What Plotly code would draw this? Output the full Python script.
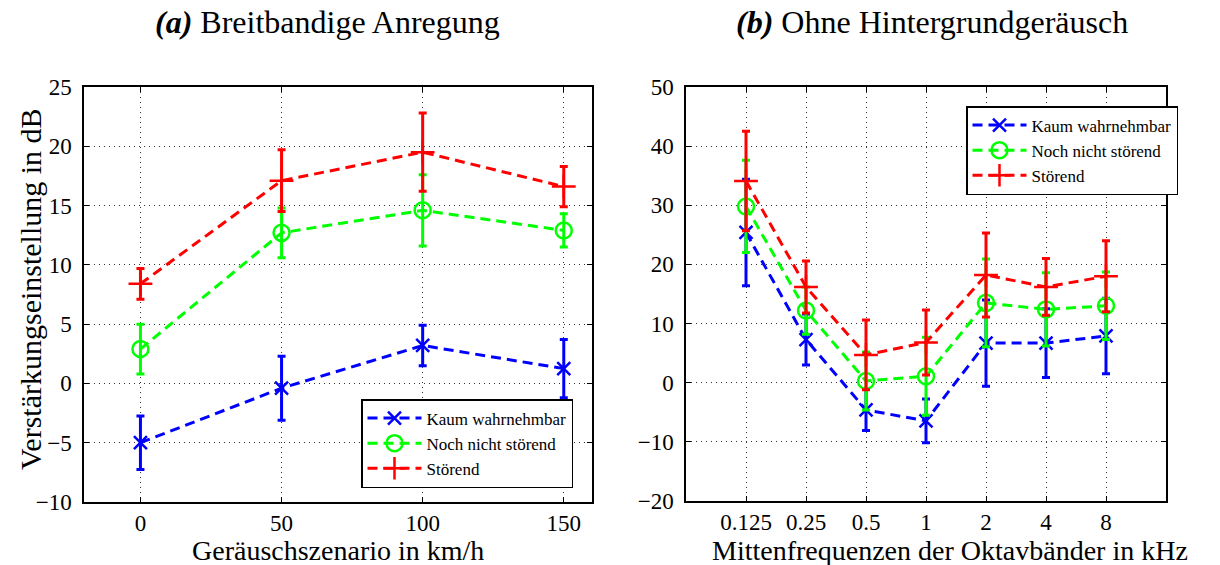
import plotly.graph_objects as go

# ---------- data ----------
series_names = ["Kaum wahrnehmbar", "Noch nicht störend", "Störend"]

# (a) Breitbandige Anregung
speed_kmh = [0, 50, 100, 150]
a_kaum = [-5.0, -0.4, 3.2, 1.25]
a_kaum_err = [2.25, 2.7, 1.7, 2.45]
a_noch = [2.9, 12.7, 14.6, 12.9]
a_noch_err = [2.1, 2.1, 3.0, 1.4]
a_stoer = [8.4, 17.1, 19.5, 16.6]
a_stoer_err = [1.3, 2.6, 3.3, 1.7]

# (b) Ohne Hintergrundgeräusch
freq_labels = ["0.125", "0.25", "0.5", "1", "2", "4", "8"]
b_kaum = [25.4, 7.3, -4.6, -6.45, 6.7, 6.7, 7.9]
b_kaum_err = [9.0, 4.3, 3.5, 3.7, 7.3, 5.8, 6.4]
b_noch = [29.8, 12.2, 0.3, 1.1, 13.5, 12.4, 13.0]
b_noch_err = [7.8, 4.0, 4.9, 6.6, 7.4, 6.2, 5.7]
b_stoer = [34.1, 16.2, 4.7, 6.8, 18.2, 16.2, 18.0]
b_stoer_err = [8.4, 4.4, 5.9, 5.5, 7.1, 4.8, 6.0]

colors = ["#0000ff", "#00ff00", "#ff0000"]
symbols = ["x-thin", "circle-open", "cross-thin"]
msizes = [13, 16, 17]

W, H = 1220, 565
FONT = "Liberation Serif"


def px(x):
    return x / W


def py(y):
    return 1 - y / H


fig = go.Figure()

b_idx = list(range(len(freq_labels)))

left_sets = [(a_kaum, a_kaum_err), (a_noch, a_noch_err), (a_stoer, a_stoer_err)]
right_sets = [(b_kaum, b_kaum_err), (b_noch, b_noch_err), (b_stoer, b_stoer_err)]

for i, (vals, errs) in enumerate(left_sets):
    fig.add_trace(go.Scatter(
        x=speed_kmh, y=vals, mode="lines+markers", name=series_names[i],
        line=dict(color=colors[i], width=3, dash="10px,6px"),
        marker=dict(symbol=symbols[i], size=msizes[i], color=colors[i],
                    line=dict(color=colors[i], width=2.5)),
        error_y=dict(type="data", array=errs, visible=True, color=colors[i],
                     thickness=3, width=4),
        xaxis="x", yaxis="y", legend="legend",
    ))

for i, (vals, errs) in enumerate(right_sets):
    fig.add_trace(go.Scatter(
        x=b_idx, y=vals, mode="lines+markers", name=series_names[i],
        line=dict(color=colors[i], width=3, dash="10px,6px"),
        marker=dict(symbol=symbols[i], size=msizes[i], color=colors[i],
                    line=dict(color=colors[i], width=2.5)),
        error_y=dict(type="data", array=errs, visible=True, color=colors[i],
                     thickness=3, width=4),
        xaxis="x2", yaxis="y2", legend="legend2",
    ))

axis_common = dict(
    showline=True, linecolor="black", linewidth=1.5, mirror="allticks",
    ticks="inside", ticklen=5, tickcolor="black", tickwidth=1,
    showgrid=True, gridcolor="#333333", griddash="1px,4px", gridwidth=1,
    zeroline=False, automargin=False,
    tickfont=dict(family=FONT, size=23, color="black"),
)

legend_common = dict(
    xanchor="right", yanchor="top",
    bgcolor="white", bordercolor="black", borderwidth=1.5,
    font=dict(family=FONT, size=17, color="black"),
    tracegroupgap=0, itemwidth=54,
)

fig.update_layout(
    width=W, height=H, autosize=False,
    margin=dict(l=0, r=0, t=0, b=0, pad=0, autoexpand=False),
    paper_bgcolor="white", plot_bgcolor="white",
    font=dict(family=FONT, color="black"),
    xaxis=dict(domain=[px(84), px(592)], range=[-20, 160],
               tickvals=[0, 50, 100, 150], anchor="y", **axis_common),
    yaxis=dict(domain=[py(502), py(87)], range=[-10, 25],
               tickvals=list(range(-10, 26, 5)), anchor="x",
               ticklabelstandoff=6, **axis_common),
    xaxis2=dict(domain=[px(686), px(1166)], range=[-1, 7],
                tickvals=b_idx, ticktext=freq_labels, anchor="y2", **axis_common),
    yaxis2=dict(domain=[py(501), py(87)], range=[-20, 50],
                tickvals=list(range(-20, 51, 10)), anchor="x2",
                ticklabelstandoff=6, **axis_common),
    legend=dict(x=px(573), y=py(399), **legend_common),
    legend2=dict(x=px(1178), y=py(106), **legend_common),
    showlegend=True,
)

annotations = [
    dict(text="<b><i>(a)</i></b> Breitbandige Anregung", x=px(327), y=py(22), size=32),
    dict(text="<b><i>(b)</i></b> Ohne Hintergrundgeräusch", x=px(932), y=py(22), size=32),
    dict(text="Geräuschszenario in km/h", x=px(338), y=py(550), size=28),
    dict(text="Mittenfrequenzen der Oktavbänder in kHz", x=px(950), y=py(550), size=28),
    dict(text="Verstärkungseinstellung in dB", x=px(30), y=py(289), size=30, angle=-90),
]
for a in annotations:
    fig.add_annotation(xref="paper", yref="paper", showarrow=False,
                       xanchor="center", yanchor="middle",
                       text=a["text"], x=a["x"], y=a["y"],
                       textangle=a.get("angle", 0),
                       font=dict(family=FONT, color="black", size=a["size"]))

fig.write_html("out.html")
